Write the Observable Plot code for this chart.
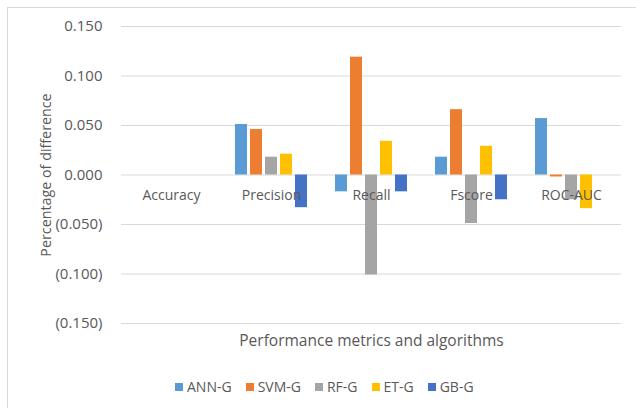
<!DOCTYPE html>
<html>
<head>
<meta charset="utf-8">
<script src="https://cdn.jsdelivr.net/npm/d3@7"></script>
<script src="https://cdn.jsdelivr.net/npm/@observablehq/plot@0.6"></script>
<style>
  html, body { margin: 0; padding: 0; background: #fff; }
  #wrap { position: relative; width: 636px; height: 408px; overflow: hidden; font-family: "Open Sans", Lato, sans-serif; }
  #frame { position: absolute; left: 7px; top: 7px; width: 660px; height: 420px; border: 1px solid #d9d9d9; box-sizing: border-box; }
  #chart { position: absolute; left: 0; top: 0; }
  #chart g[aria-label="y-axis label"] text { font-size: 14.3px; }
  #chart g[aria-label="fx-axis label"] text { font-size: 15.5px; }
  #legend { position: absolute; top: 377px; left: 175px; display: flex; gap: 14px; font-size: 14px; color: #595959; }
  #legend .item { display: flex; align-items: center; gap: 4px; }
  #legend .sw { width: 8px; height: 8px; display: inline-block; }
</style>
</head>
<body>
<div id="wrap">
  <div id="frame"></div>
  <div id="chart"></div>
  <div id="legend"></div>
</div>
<script>
const metrics = ["Accuracy", "Precision", "Recall", "Fscore", "ROC-AUC"];
const algorithms = ["ANN-G", "SVM-G", "RF-G", "ET-G", "GB-G"];
const colors = ["#5B9BD5", "#ED7D31", "#A5A5A5", "#FFC000", "#4472C4"];
const annG = [0, 0.051, -0.017, 0.018, 0.057];
const svmG = [0, 0.046, 0.119, 0.066, -0.002];
const rfG  = [0, 0.018, -0.101, -0.049, -0.025];
const etG  = [0, 0.021, 0.034, 0.029, -0.034];
const gbG  = [0, -0.033, -0.017, -0.025, 0];
const yTicks = [-0.15, -0.1, -0.05, 0, 0.05, 0.1, 0.15];

const series = [annG, svmG, rfG, etG, gbG];
const data = [];
metrics.forEach((m, i) => algorithms.forEach((a, j) => data.push({metric: m, algo: a, value: series[j][i]})));

const fmt = d => d < 0 ? `(${Math.abs(d).toFixed(3)})` : d.toFixed(3);

const plot = Plot.plot({
  width: 636,
  height: 360,
  marginTop: 26,
  marginBottom: 37,
  marginLeft: 119,
  marginRight: 13,
  style: {fontFamily: "'Open Sans', Lato, sans-serif", fontSize: "15px", color: "#595959", background: "transparent"},
  fx: {domain: metrics, padding: 0, label: "Performance metrics and algorithms", labelAnchor: "center", labelArrow: "none", tickFormat: () => "", tickSize: 0, labelOffset: 22, axis: "bottom"},
  x: {domain: algorithms, paddingInner: 0.2, paddingOuter: 0.87, axis: null},
  y: {domain: [-0.15, 0.15], ticks: yTicks, tickFormat: fmt, tickSize: 0, tickPadding: 19, grid: false,
      label: "Percentage of difference", labelAnchor: "center", labelArrow: "none", labelOffset: 81},
  color: {domain: algorithms, range: colors},
  marks: [
    Plot.ruleY(yTicks, {y: d => d, stroke: "#d9d9d9", strokeWidth: 1, facet: "exclude"}),
    Plot.barY(data, {fx: "metric", x: "algo", y: "value", fill: "algo", inset: 0}),
    Plot.text(metrics, {fx: d => d, text: d => d, y: 0, dy: 21, fill: "#595959", fontSize: 14})
  ]
});
document.getElementById("chart").appendChild(plot);

const legend = document.getElementById("legend");
algorithms.forEach((a, i) => {
  const it = document.createElement("div");
  it.className = "item";
  const sw = document.createElement("span");
  sw.className = "sw";
  sw.style.background = colors[i];
  const tx = document.createElement("span");
  tx.textContent = a;
  it.appendChild(sw); it.appendChild(tx);
  legend.appendChild(it);
});
</script>
</body>
</html>
